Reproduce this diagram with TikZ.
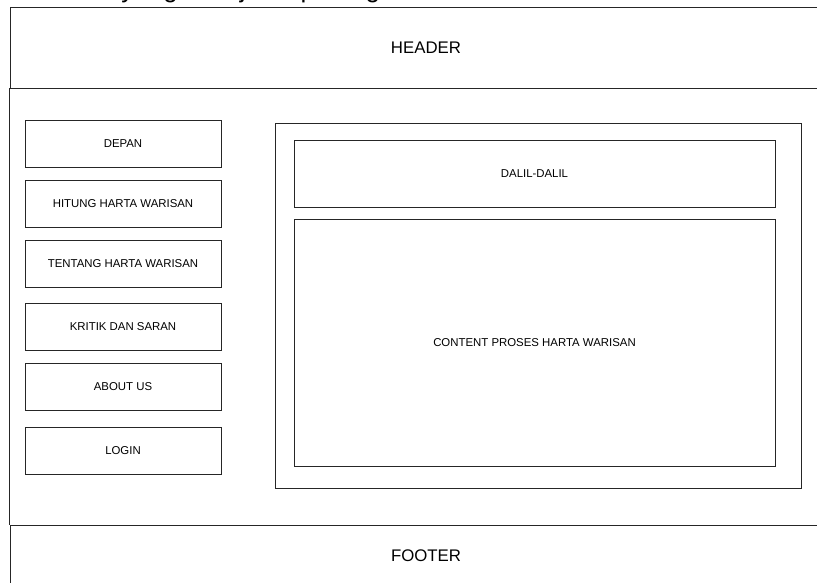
\documentclass[tikz,border=0pt]{standalone}
\usepackage{fontspec}
\setmainfont{Liberation Sans}
\begin{document}
\begin{tikzpicture}[x=1pt,y=-1pt,
  frame/.style={draw=black!85, line width=0.9pt},
  box/.style={frame, inner sep=0pt, font=\fontsize{11.4}{13}\selectfont},
  menu/.style={box, minimum width=196pt, minimum height=47pt},
  big/.style={frame, inner sep=0pt, font=\fontsize{16.8}{19}\selectfont}
]
\useasboundingbox (0,0) rectangle (817,582);
\clip (0,0) rectangle (817,582);
\fill[white] (0,0) rectangle (817,582);
% clipped line of text at the top
\node[anchor=base west, inner sep=0pt, font=\fontsize{26}{30}\selectfont] (toptext) at (20,-2.5) {tersebut yang di sajikan pada gambar di bawah ini};
% header / footer / frame
\node[big, minimum width=832pt, minimum height=81pt] (header) at (426,47.5) {HEADER};
\node[big, minimum width=832pt, minimum height=62pt] (footer) at (426,556) {FOOTER};
\draw[frame] (header.south west) -- (footer.north west);
\draw[frame] (header.south east) -- (footer.north east);
% menu
\node[menu] (depan) at (123,143.5) {DEPAN};
\node[menu] (hitung) at (123,203.5) {HITUNG HARTA WARISAN};
\node[menu] (tentang) at (123,263.5) {TENTANG HARTA WARISAN};
\node[menu] (kritik) at (123,327) {KRITIK DAN SARAN};
\node[menu] (about) at (123,387) {ABOUT US};
\node[menu] (login) at (123,450.5) {LOGIN};
% content
\node[box, minimum width=526pt, minimum height=365pt] (main) at (538,305.5) {};
\node[box, minimum width=481pt, minimum height=67pt] (dalil) at (534.5,173.5) {DALIL-DALIL};
\node[box, minimum width=481pt, minimum height=247pt] (content) at (534.5,342.5) {CONTENT PROSES HARTA WARISAN};
\end{tikzpicture}
\end{document}
